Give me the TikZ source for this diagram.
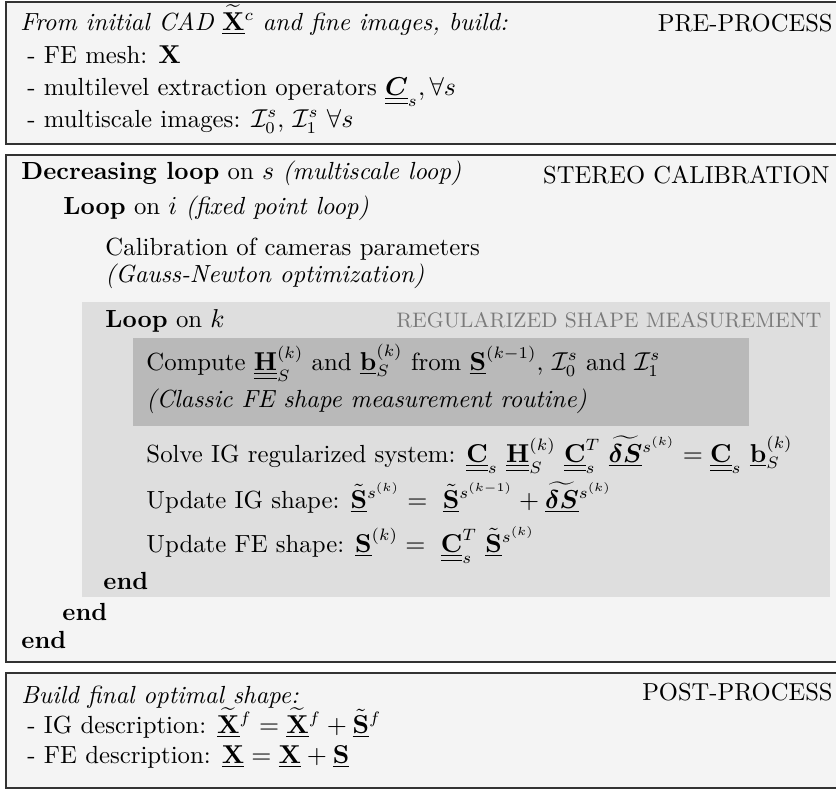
\documentclass[tikz,border=0pt]{standalone}
\usepackage{amsmath,amssymb}
\usepackage{tikz}
\usetikzlibrary{positioning}

\definecolor{panelfill}{gray}{0.957}
\definecolor{loopfill}{gray}{0.871}
\definecolor{routinefill}{gray}{0.725}
\definecolor{tagcolor}{gray}{0.48}

\newcommand{\ul}[1]{\underline{#1}}
\newcommand{\uul}[1]{\underline{\underline{#1}}}

\begin{document}
\begin{tikzpicture}[
  x=0.4237pt, y=-0.4237pt,
  panel/.style={draw=black!80,line width=0.6pt,fill=panelfill},
  line/.style={anchor=base west,inner sep=0pt,font=\fontsize{10.5}{12.6}\selectfont},
  tag/.style={anchor=base east,inner sep=0pt,font=\fontsize{10.4}{12.5}\selectfont},
  subtag/.style={anchor=base east,inner sep=0pt,font=\fontsize{8.9}{10.7}\selectfont,text=tagcolor}
]
\useasboundingbox (0,0) rectangle (836,789);

% three panels
\draw[panel] (6,2) rectangle (860,144);
\draw[panel] (6,155) rectangle (860,662);
\draw[panel] (6,673) rectangle (860,788);
\fill[loopfill] (82,302) rectangle (830,597);
\fill[routinefill] (133,338) rectangle (749,426);

% pre-process
\node[line] (pre1) at (20,30) {\textit{From initial CAD} $\ul{\widetilde{\mathbf{X}}}{}^c$ \textit{and fine images, build:}};
\node[tag] (pretag) at (833,31) {PRE-PROCESS};
\node[line] (pre2) at (27,63) {- FE mesh: $\mathbf{X}$};
\node[line] (pre3) at (27,95) {- multilevel extraction operators $\uul{\boldsymbol{C}}_s, \forall s$};
\node[line] (pre4) at (27,127) {- multiscale images: $\mathcal{I}_0^s$, $\mathcal{I}_1^s$ $\forall s$};

% stereo calibration
\node[line] (loops) at (21,179) {\textbf{Decreasing loop} on $s$ \textit{(multiscale loop)}};
\node[tag] (stereotag) at (830,183) {STEREO CALIBRATION};
\node[line] (loopi) at (63,214) {\textbf{Loop} on $i$ \textit{(fixed point loop)}};
\node[line] (calib) at (105,255) {Calibration of cameras parameters};
\node[line] (gauss) at (105,282) {\textit{(Gauss-Newton optimization)}};
\node[line] (loopk) at (105,327) {\textbf{Loop} on $k$};
\node[subtag] (regtag) at (822,327) {REGULARIZED SHAPE MEASUREMENT};
\node[line] (compute) at (146,370) {Compute \smash{$\uul{\mathbf{H}}_S^{(k)}$} and \smash{$\ul{\mathbf{b}}_S^{(k)}$} from \smash{$\ul{\mathbf{S}}^{(k-1)}$}, $\mathcal{I}_0^s$ and $\mathcal{I}_1^s$};
\node[line] (classic) at (146,407) {\textit{(Classic FE shape measurement routine)}};
\node[line] (solve) at (146,462) {Solve IG regularized system: \smash{$\uul{\mathbf{C}}_s\ \uul{\mathbf{H}}_S^{(k)}\ \uul{\mathbf{C}}_s^T\ \ul{\widetilde{\boldsymbol{\delta S}}}{}^{s^{(k)}} = \uul{\mathbf{C}}_s\ \ul{\mathbf{b}}_S^{(k)}$}};
\node[line] (updig) at (146,508) {Update IG shape: \smash{$\ul{\tilde{\mathbf{S}}}{}^{s^{(k)}} =\ \ul{\tilde{\mathbf{S}}}{}^{s^{(k-1)}} + \ul{\widetilde{\boldsymbol{\delta S}}}{}^{s^{(k)}}$}};
\node[line] (updfe) at (146,552) {Update FE shape: \smash{$\ul{\mathbf{S}}^{(k)} =\ \uul{\mathbf{C}}_s^T\ \ul{\tilde{\mathbf{S}}}{}^{s^{(k)}}$}};
\node[line] (endk) at (103,589) {\textbf{end}};
\node[line] (endi) at (62,620) {\textbf{end}};
\node[line] (ends) at (21,648) {\textbf{end}};

% post-process
\node[line] (post1) at (21,703) {\textit{Build final optimal shape:}};
\node[tag] (posttag) at (833,700) {POST-PROCESS};
\node[line] (post2) at (27,733) {- IG description: \smash{$\ul{\widetilde{\mathbf{X}}}{}^f = \ul{\widetilde{\mathbf{X}}}{}^f + \ul{\tilde{\mathbf{S}}}{}^f$}};
\node[line] (post3) at (27,763) {- FE description: \smash{$\ul{\mathbf{X}} = \ul{\mathbf{X}} + \ul{\mathbf{S}}$}};
\end{tikzpicture}
\end{document}
